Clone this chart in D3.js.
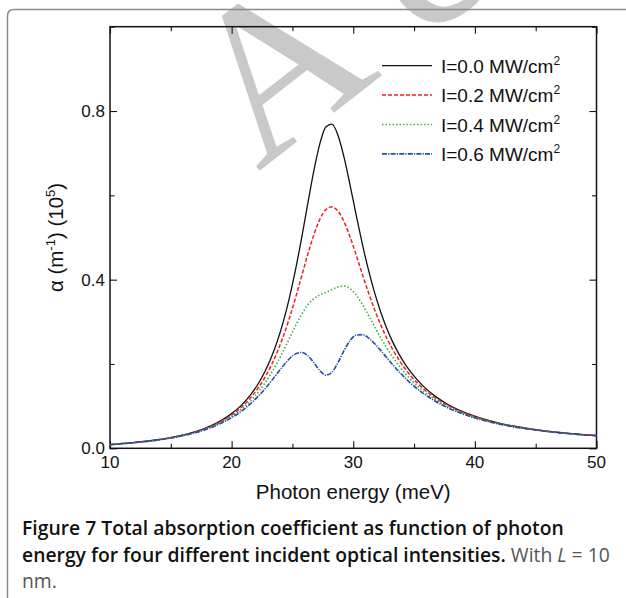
<!DOCTYPE html>
<html><head><meta charset="utf-8">
<script src="https://cdn.jsdelivr.net/npm/d3@7"></script>
<style>body{margin:0;background:#fff} svg{display:block}</style>
</head><body><svg id="c" width="626" height="598"></svg>
<script>
// ---------- data ----------
const energy = [10,10.75,11.75,12.75,13.75,14.75,15.75,16.75,17.75,18.75,19.75,20.75,21.25,21.75,22.25,22.75,23.25,23.75,24.25,24.75,25.25,25.75,26.25,26.75,27.25,27.75,28.25,28.75,29.25,29.75,30.25,30.75,31.25,31.75,32.25,32.75,33.25,33.75,34.25,34.75,35.75,36.75,37.75,38.75,39.75,40.75,41.75,42.75,43.75,44.75,45.75,46.75,47.75,48.75,50];
const alphaI00 = [0.0087,0.0107,0.0131,0.0161,0.0197,0.0242,0.0300,0.0373,0.0469,0.0597,0.0769,0.1006,0.1159,0.1342,0.1561,0.1826,0.2147,0.2536,0.3006,0.3569,0.4230,0.4980,0.5784,0.6568,0.7222,0.7623,0.7689,0.7419,0.6894,0.6227,0.5521,0.4844,0.4232,0.3698,0.3239,0.2849,0.2519,0.2239,0.2001,0.1799,0.1475,0.1232,0.1046,0.0901,0.0785,0.0692,0.0616,0.0552,0.0499,0.0454,0.0415,0.0381,0.0352,0.0327,0.0304];
const alphaI02 = [0.0087,0.0106,0.0130,0.0159,0.0194,0.0239,0.0294,0.0366,0.0458,0.0579,0.0741,0.0961,0.1100,0.1264,0.1459,0.1689,0.1962,0.2283,0.2657,0.3087,0.3566,0.4078,0.4590,0.5057,0.5429,0.5660,0.5727,0.5624,0.5371,0.5005,0.4576,0.4128,0.3694,0.3293,0.2934,0.2616,0.2340,0.2100,0.1892,0.1711,0.1418,0.1193,0.1019,0.0881,0.0771,0.0681,0.0607,0.0545,0.0493,0.0449,0.0411,0.0378,0.0350,0.0325,0.0302];
const alphaI04 = [0.0086,0.0105,0.0129,0.0157,0.0192,0.0235,0.0289,0.0358,0.0446,0.0561,0.0713,0.0915,0.1041,0.1187,0.1357,0.1552,0.1776,0.2029,0.2309,0.2605,0.2903,0.3176,0.3396,0.3546,0.3635,0.3698,0.3766,0.3829,0.3847,0.3782,0.3631,0.3413,0.3157,0.2889,0.2628,0.2384,0.2161,0.1960,0.1782,0.1624,0.1361,0.1155,0.0992,0.0862,0.0756,0.0670,0.0598,0.0539,0.0488,0.0445,0.0408,0.0375,0.0347,0.0323,0.0301];
const alphaI06 = [0.0085,0.0104,0.0127,0.0155,0.0189,0.0231,0.0284,0.0350,0.0435,0.0543,0.0685,0.0869,0.0982,0.1110,0.1254,0.1415,0.1591,0.1776,0.1960,0.2123,0.2239,0.2274,0.2202,0.2035,0.1841,0.1735,0.1804,0.2034,0.2323,0.2560,0.2686,0.2697,0.2619,0.2485,0.2323,0.2151,0.1982,0.1821,0.1672,0.1536,0.1304,0.1116,0.0965,0.0842,0.0742,0.0659,0.0590,0.0532,0.0483,0.0441,0.0404,0.0373,0.0345,0.0321,0.0299];
const seriesLabels = ["I=0.0 MW/cm", "I=0.2 MW/cm", "I=0.4 MW/cm", "I=0.6 MW/cm"];
const xMajorTicks = [10,20,30,40,50];
const xMinorTicks = [15,25,35,45];
const yMajorTicks = [0.0,0.4,0.8];
const yMinorTicks = [0.2,0.6,1.0];
const xTitle = "Photon energy (meV)";
const captionBold1 = "Figure 7 Total absorption coefficient as function of photon";
const captionBold2 = "energy for four different incident optical intensities.";
const watermark = "Accepted";

// ---------- styles ----------
const styles = [
  {color:"#111111", dash:null, width:1.3},
  {color:"#ee2222", dash:"4,2", width:1.5},
  {color:"#44aa44", dash:"1.5,2", width:1.6},
  {color:"#1f4ea6", dash:"5,1.2,1.2,1.2", width:1.6}
];
const series = [alphaI00, alphaI02, alphaI04, alphaI06];

const svg = d3.select("#c");
const W = 626, H = 598;
const m = {left:110, right:596.5, top:26.7, bottom:448.3};

// watermark
svg.append("text")
  .attr("transform","translate(258,172) rotate(-38)")
  .attr("font-family","Liberation Serif, DejaVu Serif, serif")
  .attr("font-size",220)
  .attr("letter-spacing",50)
  .attr("fill","#c9c9c9")
  .text(watermark);

// card border
svg.append("path")
  .attr("d", `M7.5,${H} L7.5,16 Q7.5,9.5 14,9.5 L${W},9.5`)
  .attr("fill","none").attr("stroke","#8a8a8a").attr("stroke-width",1.5);

const x = d3.scaleLinear().domain([10,50]).range([m.left, m.right]);
const y = d3.scaleLinear().domain([0,1.0]).range([m.bottom, m.top]);

const axisFont = "Liberation Sans, Arial, Helvetica, sans-serif";

function styleAxis(g){
  g.select(".domain").remove();
  g.selectAll("line").attr("stroke","#111").attr("stroke-width",1.1);
}
const axisDefs = [
  [d3.axisTop, x, xMajorTicks, 7, `translate(0,${m.bottom})`],
  [d3.axisTop, x, xMinorTicks, 4.5, `translate(0,${m.bottom})`],
  [d3.axisBottom, x, xMajorTicks, 7, `translate(0,${m.top})`],
  [d3.axisBottom, x, xMinorTicks, 4.5, `translate(0,${m.top})`],
  [d3.axisRight, y, yMajorTicks, 7, `translate(${m.left},0)`],
  [d3.axisRight, y, yMinorTicks, 4.5, `translate(${m.left},0)`],
  [d3.axisLeft, y, yMajorTicks, 7, `translate(${m.right},0)`],
  [d3.axisLeft, y, yMinorTicks, 4.5, `translate(${m.right},0)`]
];
axisDefs.forEach(([fn,sc,tv,sz,tr])=>{
  svg.append("g").attr("transform",tr)
    .call(fn(sc).tickValues(tv).tickSize(sz).tickFormat(""))
    .call(styleAxis);
});

// tick labels
svg.append("g").selectAll("text").data(xMajorTicks).join("text")
  .attr("x",d=>x(d)).attr("y",m.bottom+20).attr("text-anchor","middle")
  .attr("font-family",axisFont).attr("font-size",17).attr("fill","#111")
  .text(d=>d);
svg.append("g").selectAll("text").data(yMajorTicks).join("text")
  .attr("x",m.left-5).attr("y",d=>y(d)+6).attr("text-anchor","end")
  .attr("font-family",axisFont).attr("font-size",17).attr("fill","#111")
  .text(d=>d.toFixed(1));

// frame
svg.append("rect").attr("x",m.left).attr("y",m.top)
  .attr("width",m.right-m.left).attr("height",m.bottom-m.top)
  .attr("fill","none").attr("stroke","#111").attr("stroke-width",1.5);

// curves
const line = d3.line().x((d,i)=>x(energy[i])).y(d=>y(d)).curve(d3.curveMonotoneX);
series.forEach((s,k)=>{
  svg.append("path").datum(s).attr("d",line)
    .attr("fill","none").attr("stroke",styles[k].color)
    .attr("stroke-width",styles[k].width)
    .attr("stroke-dasharray",styles[k].dash);
});

// legend
const legY0 = 65.7, legDy = 29.4;
seriesLabels.forEach((lab,k)=>{
  const yy = legY0 + k*legDy;
  svg.append("line").attr("x1",382).attr("x2",432).attr("y1",yy).attr("y2",yy)
    .attr("stroke",styles[k].color).attr("stroke-width",styles[k].width)
    .attr("stroke-dasharray",styles[k].dash);
  const t = svg.append("text").attr("x",441).attr("y",yy+7)
    .attr("font-family",axisFont).attr("font-size",19).attr("fill","#111");
  t.append("tspan").text(lab);
  t.append("tspan").attr("dy",-8).attr("font-size",12).text("2");
});

// axis titles
svg.append("text").attr("x",(m.left+m.right)/2).attr("y",499)
  .attr("text-anchor","middle").attr("font-family",axisFont).attr("font-size",20.5).attr("fill","#111")
  .text(xTitle);
const yt = svg.append("text").attr("transform",`translate(63,${(m.top+m.bottom)/2}) rotate(-90)`)
  .attr("text-anchor","middle").attr("font-family",axisFont).attr("font-size",20.5).attr("fill","#111");
yt.append("tspan").text("α (m");
yt.append("tspan").attr("dy",-8).attr("font-size",13).text("-1");
yt.append("tspan").attr("dy",8).text(") (10");
yt.append("tspan").attr("dy",-8).attr("font-size",13).text("5");
yt.append("tspan").attr("dy",8).text(")");

// caption
const capFont = "Open Sans, Noto Sans, sans-serif";
const c1 = svg.append("text").attr("x",22).attr("y",535)
  .attr("font-family",capFont).attr("font-size",16).attr("font-weight",600).attr("fill","#111")
  .text(captionBold1);
const w1 = c1.node().getComputedTextLength();
const fs = 16*542/w1;
c1.attr("font-size",fs);
const c2 = svg.append("text").attr("x",22).attr("y",561.5)
  .attr("font-family",capFont).attr("font-size",fs).attr("fill","#111");
c2.append("tspan").attr("font-weight",600).text(captionBold2);
c2.append("tspan").attr("fill","#555").text(" With ");
c2.append("tspan").attr("fill","#555").attr("font-style","italic").text("L");
c2.append("tspan").attr("fill","#555").text(" = 10");
svg.append("text").attr("x",22).attr("y",588)
  .attr("font-family",capFont).attr("font-size",fs).attr("fill","#555").text("nm.");
</script></body></html>
